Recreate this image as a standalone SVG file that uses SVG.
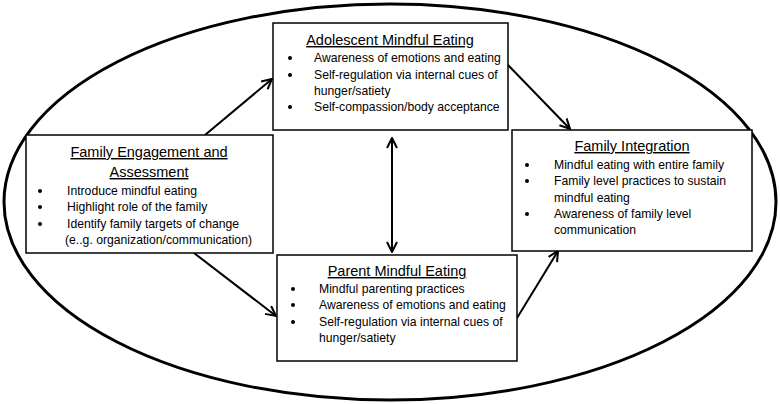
<svg xmlns="http://www.w3.org/2000/svg" width="780" height="404" viewBox="0 0 780 404">
<defs>
<marker id="ah" viewBox="0 0 12 12" refX="11" refY="6" markerWidth="12" markerHeight="12" markerUnits="userSpaceOnUse" orient="auto-start-reverse">
<path d="M1,1 L11,6 L1,11" fill="none" stroke="#000" stroke-width="2"/>
</marker>
</defs>
<style>
.box{fill:#fff;stroke:#000;stroke-width:1.5}
.t{font-family:"Liberation Sans",Arial,sans-serif;font-size:14.5px;text-anchor:middle;text-decoration:underline;fill:#000}
.b{font-family:"Liberation Sans",Arial,sans-serif;font-size:12.2px;fill:#000}
.d{fill:#000}
.c{stroke:#000;stroke-width:2;fill:none;marker-end:url(#ah)}
</style>
<rect width="780" height="404" fill="#fff"/>
<ellipse cx="390" cy="202" rx="386" ry="198" fill="none" stroke="#000" stroke-width="3"/>
<g id="connectors">
<line class="c" x1="205" y1="135" x2="272" y2="79"/>
<line class="c" x1="194" y1="253" x2="276" y2="316"/>
<line class="c" x1="508" y1="65" x2="570" y2="129"/>
<line class="c" x1="517" y1="318" x2="558" y2="251"/>
<line class="c" x1="392" y1="138" x2="392" y2="252" style="marker-start:url(#ah)"/>
</g>
<g id="engagement">
<rect class="box" x="26" y="135" width="247" height="118"/>
<text class="t" x="149" y="157">Family Engagement and</text>
<text class="t" x="149" y="177">Assessment</text>
<circle class="d" cx="40" cy="191" r="2"/><text class="b" x="67" y="195">Introduce mindful eating</text>
<circle class="d" cx="40" cy="207" r="2"/><text class="b" x="67" y="211">Highlight role of the family</text>
<circle class="d" cx="40" cy="224" r="2"/><text class="b" x="67" y="228">Identify family targets of change</text>
<text class="b" x="65" y="244">(e..g. organization/communication)</text>
</g>
<g id="adolescent">
<rect class="box" x="273" y="23" width="235" height="107"/>
<text class="t" x="390" y="45">Adolescent Mindful Eating</text>
<circle class="d" cx="290" cy="58" r="2"/><text class="b" x="314" y="62">Awareness of emotions and eating</text>
<circle class="d" cx="290" cy="75" r="2"/><text class="b" x="314" y="79">Self-regulation via internal cues of</text>
<text class="b" x="314" y="95">hunger/satiety</text>
<circle class="d" cx="290" cy="107" r="2"/><text class="b" x="314" y="111">Self-compassion/body acceptance</text>
</g>
<g id="parent">
<rect class="box" x="277" y="255" width="240" height="106"/>
<text class="t" x="397" y="276">Parent Mindful Eating</text>
<circle class="d" cx="293" cy="289" r="2"/><text class="b" x="319" y="293">Mindful parenting practices</text>
<circle class="d" cx="293" cy="305" r="2"/><text class="b" x="319" y="309">Awareness of emotions and eating</text>
<circle class="d" cx="293" cy="322" r="2"/><text class="b" x="319" y="326">Self-regulation via internal cues of</text>
<text class="b" x="319" y="342">hunger/satiety</text>
</g>
<g id="integration">
<rect class="box" x="512" y="130" width="240" height="121"/>
<text class="t" x="632" y="151">Family Integration</text>
<circle class="d" cx="527" cy="165" r="2"/><text class="b" x="554" y="169">Mindful eating with entire family</text>
<circle class="d" cx="527" cy="181" r="2"/><text class="b" x="554" y="185">Family level practices to sustain</text>
<text class="b" x="554" y="202">mindful eating</text>
<circle class="d" cx="527" cy="214" r="2"/><text class="b" x="554" y="218">Awareness of family level</text>
<text class="b" x="554" y="234">communication</text>
</g>
</svg>
